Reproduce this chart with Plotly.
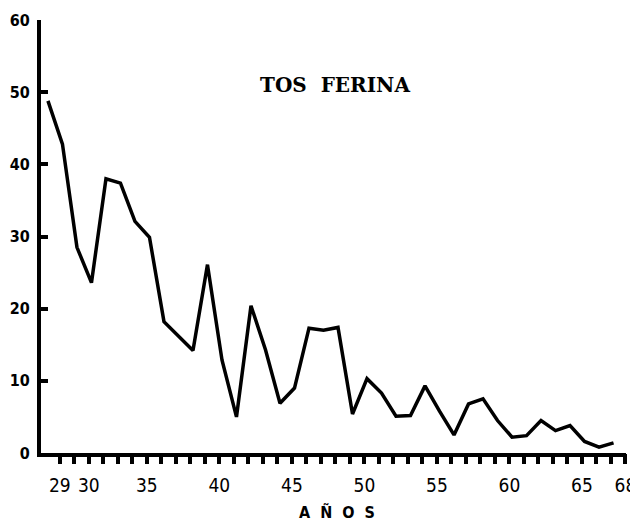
import plotly.graph_objects as go

# ---- data ----
years = list(range(1929, 1969))
rates = [48.8, 42.8, 28.5, 23.6, 38.0, 37.4, 32.1, 29.9, 18.2, 16.2,
         14.2, 26.1, 12.9, 5.0, 20.4, 14.3, 6.9, 9.0, 17.3, 17.0,
         17.4, 5.4, 10.3, 8.3, 5.1, 5.2, 9.3, 5.8, 2.5, 6.8,
         7.5, 4.5, 2.2, 2.4, 4.5, 3.1, 3.8, 1.6, 0.8, 1.4]
y_ticks = [0, 10, 20, 30, 40, 50, 60]
y_tick_labels = ["0", "10", "20", "30", "40", "50", "60"]
# the original hand-lettered "30" sits under the third tick mark
x_label_slots = [1929, 1931, 1935, 1940, 1945, 1950, 1955, 1960, 1965, 1968]
x_tick_labels = ["29", "30", "35", "40", "45", "50", "55", "60", "65", "68"]
title_text = "TOS\u00a0\u00a0FERINA"
x_title = "A\u00a0\u00a0Ñ\u00a0\u00a0O\u00a0\u00a0S"

# ---- styling ----
data_range = [1928.52, 1968.86]
tick_shift = 0.82  # tick row drawn slightly right of the data in the original
tick_range = [data_range[0] - tick_shift, data_range[1] - tick_shift]
label_map = dict(zip(x_label_slots, x_tick_labels))
tick_text = [label_map.get(y, "") for y in years]

narrow = "Liberation Sans Narrow, DejaVu Sans Condensed, Arial Narrow, sans-serif"

fig = go.Figure()
fig.add_trace(go.Scatter(x=years, y=rates, mode="lines",
                         line=dict(color="black", width=3.5),
                         hoverinfo="skip", showlegend=False))
fig.add_trace(go.Scatter(x=years, y=[None] * len(years), xaxis="x2",
                         mode="lines", hoverinfo="skip", showlegend=False))

# page body has an 8px default margin, so the figure is sized to fit after it
fig.update_layout(
    width=630, height=518,
    margin=dict(l=33, r=12, t=12, b=73, autoexpand=False),
    paper_bgcolor="white", plot_bgcolor="white",
    xaxis=dict(range=data_range, showgrid=False, zeroline=False,
               showline=True, linewidth=4, linecolor="black",
               ticks="", showticklabels=False, automargin=False),
    xaxis2=dict(range=tick_range, overlaying="x", anchor="y", side="bottom",
                showgrid=False, zeroline=False, showline=False,
                tickmode="array", tickvals=years, ticktext=tick_text,
                ticks="outside", ticklen=10, tickwidth=4, tickcolor="black",
                ticklabelstandoff=5, tickangle=0, automargin=False,
                ticklabeloverflow="allow",
                tickfont=dict(family=narrow, size=19, color="black")),
    yaxis=dict(range=[0, 60], showgrid=False, zeroline=False,
               showline=True, linewidth=4, linecolor="black",
               tickmode="array", tickvals=y_ticks, ticktext=y_tick_labels,
               ticks="inside", ticklen=7, tickwidth=4, tickcolor="black",
               ticklabelstandoff=4, automargin=False,
               tickfont=dict(family=narrow, size=16, color="black", weight="bold")),
    annotations=[
        dict(text=title_text, xref="paper", yref="paper", x=0.503, y=0.85,
             xanchor="center", yanchor="middle", showarrow=False,
             font=dict(family="DejaVu Serif, Liberation Serif, serif", size=20,
                       color="black", weight="bold")),
        dict(text=x_title, xref="paper", yref="paper", x=0.506, y=0,
             xanchor="center", yanchor="middle", yshift=-59, showarrow=False,
             font=dict(family=narrow, size=16, color="black", weight="bold")),
    ],
)

fig.write_html("out.html")
